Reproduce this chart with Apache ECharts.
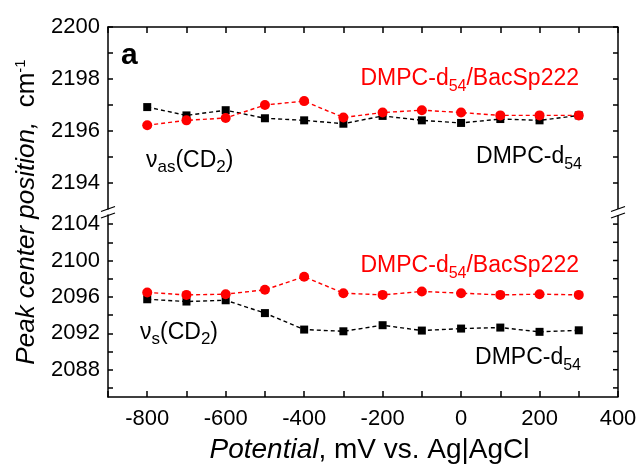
<!DOCTYPE html>
<html><head><meta charset="utf-8">
<script src="https://cdn.jsdelivr.net/npm/echarts@6/dist/echarts.min.js"></script>
<style>html,body{margin:0;padding:0;background:#fff;overflow:hidden}#c{width:636px;height:467px}</style>
</head><body><div id="c"></div>
<script>
// ---- data ----
const potentials = [-800,-700,-600,-500,-400,-300,-200,-100,0,100,200,300];
const asLipid = [2196.92,2196.60,2196.80,2196.49,2196.41,2196.28,2196.58,2196.41,2196.31,2196.46,2196.41,2196.60];
const asBac   = [2196.22,2196.41,2196.50,2197.00,2197.15,2196.52,2196.71,2196.80,2196.71,2196.60,2196.60,2196.60];
const sLipid  = [2095.74,2095.49,2095.63,2094.22,2092.41,2092.22,2092.89,2092.30,2092.52,2092.63,2092.16,2092.33];
const sBac    = [2096.49,2096.22,2096.30,2096.78,2098.22,2096.41,2096.22,2096.60,2096.41,2096.22,2096.30,2096.22];
const xTickLabels = [-800,-600,-400,-200,0,200,400];
const yTopLabels = [2194,2196,2198,2200];
const yTopTicks = [2194,2195,2196,2197,2198,2199,2200];
const yBotLabels = [2088,2092,2096,2100,2104];
const yBotTicks = [2086,2088,2090,2092,2094,2096,2098,2100,2102,2104];

const FONT = 'Liberation Sans, Arial, sans-serif';
const RED = '#ff0000';
const BLACK = '#000000';
const X_MIN = -900, X_MAX = 400;
const TOP_RANGE = [2193, 2200];
const BOT_RANGE = [2085, 2105];
const GRID_LEFT = 108, GRID_W = 510;
const TOP_Y = 27, TOP_H = 182, BOT_Y = 215, BOT_H = 182;
const TICK_PX = 5;

function pairs(ys){ return potentials.map((x,i)=>[x, ys[i]]); }

function yAx(grid, min, max, ticks, labels){
  return {
    type:'value', gridIndex:grid, position:'left', min:min, max:max,
    axisLine:{show:true, onZero:false, lineStyle:{color:BLACK, width:1.5}},
    axisTick:{show:true, inside:true, length:TICK_PX, customValues:ticks, lineStyle:{color:BLACK, width:1.5}},
    axisLabel:{show:true, customValues:labels, color:BLACK, fontSize:22, fontFamily:FONT, margin:8,
      formatter:function(v){ return String(v); }},
    splitLine:{show:false}
  };
}

const chart = echarts.init(document.getElementById('c'), null, {renderer:'canvas', width:636, height:467});

const lineSty = (c)=>({color:c, width:1.4, type:[4,3]});

function lbl(x, y, parts, color, fs, sfs, lh){
  return {type:'text', x:x, y:y, z:120, style:{text:parts, textAlign:'right', textVerticalAlign:'middle',
    rich:{m:{fontSize:fs, fontFamily:FONT, fill:color, lineHeight:lh}, s:{fontSize:sfs, fontFamily:FONT, fill:color, verticalAlign:'bottom'}}}};
}
function nu(x, y, parts){
  return {type:'text', x:x, y:y, z:120, style:{text:parts, textAlign:'left', textVerticalAlign:'middle',
    rich:{m:{fontSize:23, fontFamily:FONT, fill:BLACK, lineHeight:30}, s:{fontSize:17, fontFamily:FONT, fill:BLACK, verticalAlign:'bottom'}}}};
}

const RX = GRID_LEFT + GRID_W;
const baseGraphics = [
  // right-hand frame lines (mirror of the left axis)
  {type:'line', z:115, shape:{x1:RX, y1:TOP_Y, x2:RX, y2:TOP_Y+TOP_H}, style:{stroke:BLACK, lineWidth:1.5}},
  {type:'line', z:115, shape:{x1:RX, y1:BOT_Y, x2:RX, y2:BOT_Y+BOT_H}, style:{stroke:BLACK, lineWidth:1.5}},
  // break marks
  {type:'line', z:110, shape:{x1:101,y1:211.5,x2:115,y2:206.5}, style:{stroke:BLACK, lineWidth:1.3}},
  {type:'line', z:110, shape:{x1:101,y1:218,x2:115,y2:213}, style:{stroke:BLACK, lineWidth:1.3}},
  {type:'line', z:110, shape:{x1:611,y1:211.5,x2:625,y2:206.5}, style:{stroke:BLACK, lineWidth:1.3}},
  {type:'line', z:110, shape:{x1:611,y1:218,x2:625,y2:213}, style:{stroke:BLACK, lineWidth:1.3}},
  // panel letter
  {type:'text', x:121, y:56, z:120, style:{text:'a', fill:BLACK, font:'bold 30px '+FONT, textAlign:'left', textVerticalAlign:'middle'}},
  // labels
  lbl(579, 78.5, '{m|DMPC-d}{s|54}{m|/BacSp222}', RED, 23, 16, 32),
  lbl(582, 157, '{m|DMPC-d}{s|54}', BLACK, 23, 16, 32),
  lbl(579, 265.5, '{m|DMPC-d}{s|54}{m|/BacSp222}', RED, 23, 16, 32),
  lbl(581, 357.5, '{m|DMPC-d}{s|54}', BLACK, 23, 16, 32),
  nu(146, 161, '{m|ν}{s|as}{m|(CD}{s|2}{m|)}'),
  nu(140, 333, '{m|ν}{s|s}{m|(CD}{s|2}{m|)}'),
  // axis titles
  {type:'text', x:369.5, y:450, z:120, style:{text:'{i|Potential}{n|, mV vs. Ag|AgCl}', textAlign:'center', textVerticalAlign:'middle',
    rich:{i:{fontSize:28, fontFamily:FONT, fontStyle:'italic', fill:BLACK, lineHeight:32}, n:{fontSize:28, fontFamily:FONT, fill:BLACK, lineHeight:32}}}},
  {type:'text', x:27, y:212, z:120, rotation:Math.PI/2, style:{text:'{i|Peak center position,}{n|  cm}{u|-1}', textAlign:'center', textVerticalAlign:'middle',
    rich:{i:{fontSize:26, fontFamily:FONT, fontStyle:'italic', fill:BLACK, lineHeight:28}, n:{fontSize:26, fontFamily:FONT, fill:BLACK, lineHeight:28}, u:{fontSize:15, fontFamily:FONT, fill:BLACK, verticalAlign:'top'}}}}
];

const option = {
  backgroundColor:'#ffffff',
  animation:false,
  grid:[
    {left:GRID_LEFT, top:TOP_Y, width:GRID_W, height:TOP_H, containLabel:false, outerBoundsMode:'none'},
    {left:GRID_LEFT, top:BOT_Y, width:GRID_W, height:BOT_H, containLabel:false, outerBoundsMode:'none'}
  ],
  xAxis:[
    {type:'value', gridIndex:0, position:'top', min:X_MIN, max:X_MAX, interval:100,
      axisLine:{show:true, onZero:false, lineStyle:{color:BLACK, width:1.5}},
      axisTick:{show:true, inside:true, length:6, lineStyle:{color:BLACK, width:1.5}},
      axisLabel:{show:false}, splitLine:{show:false}},
    {type:'value', gridIndex:1, position:'bottom', min:X_MIN, max:X_MAX, interval:100,
      axisLine:{show:true, onZero:false, lineStyle:{color:BLACK, width:1.5}},
      axisTick:{show:true, inside:true, length:6, lineStyle:{color:BLACK, width:1.5}},
      axisLabel:{show:true, color:BLACK, fontSize:22, fontFamily:FONT, margin:11,
        formatter:function(v){ return xTickLabels.indexOf(v) >= 0 ? String(v) : ''; }},
      splitLine:{show:false}}
  ],
  yAxis:[
    yAx(0,TOP_RANGE[0],TOP_RANGE[1],yTopTicks,yTopLabels),
    yAx(1,BOT_RANGE[0],BOT_RANGE[1],yBotTicks,yBotLabels)
  ],
  series:[
    {type:'line', xAxisIndex:0, yAxisIndex:0, data:pairs(asLipid), symbol:'rect', symbolSize:8,
      itemStyle:{color:BLACK}, lineStyle:lineSty(BLACK), z:2},
    {type:'line', xAxisIndex:0, yAxisIndex:0, data:pairs(asBac), symbol:'circle', symbolSize:10,
      itemStyle:{color:RED}, lineStyle:lineSty(RED), z:3},
    {type:'line', xAxisIndex:1, yAxisIndex:1, data:pairs(sLipid), symbol:'rect', symbolSize:8,
      itemStyle:{color:BLACK}, lineStyle:lineSty(BLACK), z:2},
    {type:'line', xAxisIndex:1, yAxisIndex:1, data:pairs(sBac), symbol:'circle', symbolSize:10,
      itemStyle:{color:RED}, lineStyle:lineSty(RED), z:3}
  ],
  graphic: baseGraphics
};
chart.setOption(option);

// right-hand ticks, positioned through the chart's own scales
const extra = [];
[[0, yTopTicks], [1, yBotTicks]].forEach(function(g){
  g[1].forEach(function(v){
    const p = chart.convertToPixel({gridIndex:g[0]}, [X_MAX, v]);
    if (p && isFinite(p[0]) && isFinite(p[1])) {
      extra.push({type:'line', z:115, shape:{x1:p[0]-TICK_PX, y1:p[1], x2:p[0], y2:p[1]}, style:{stroke:BLACK, lineWidth:1.5}});
    }
  });
});
if (extra.length) chart.setOption({graphic: baseGraphics.concat(extra)});
</script>
</body></html>
